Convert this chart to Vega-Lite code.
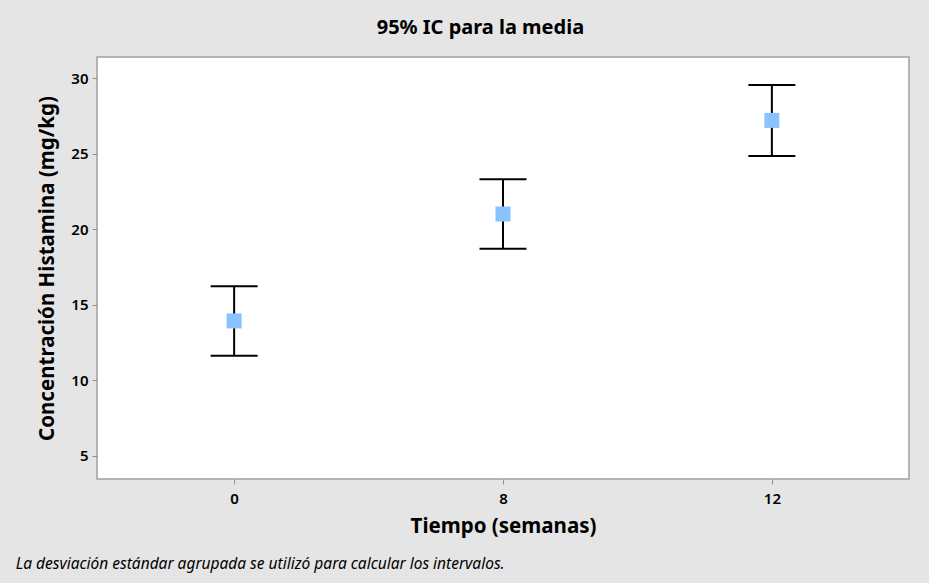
{
  "$schema": "https://vega.github.io/schema/vega-lite/v6.json",
  "background": "#e5e5e5",
  "padding": {"left": 15, "top": 18, "right": 20, "bottom": 10},
  "title": {
    "text": "95% IC para la media",
    "font": "Noto Sans",
    "fontSize": 20,
    "fontWeight": "bold",
    "color": "#000000",
    "anchor": "middle",
    "offset": 18,
    "dx": 18
  },
  "vconcat": [
    {
      "width": 812,
      "height": 422,
      "title": {
        "text": "La desviación estándar agrupada se utilizó para calcular los intervalos.",
        "orient": "bottom",
        "anchor": "start",
        "frame": "bounds",
        "font": "Noto Sans",
        "fontSize": 15.5,
        "fontStyle": "italic",
        "fontWeight": "normal",
        "color": "#000000",
        "dx": -22,
        "offset": 20
      },
      "data": {
        "values": [
          {"tiempo": "0", "media": 13.92, "inferior": 11.62, "superior": 16.22},
          {"tiempo": "8", "media": 21.0, "inferior": 18.7, "superior": 23.3},
          {"tiempo": "12", "media": 27.2, "inferior": 24.85, "superior": 29.55}
        ]
      },
      "encoding": {
        "x": {
          "field": "tiempo",
          "type": "ordinal",
          "sort": ["0", "8", "12"],
          "scale": {"type": "point", "padding": 0.51},
          "axis": {"title": "Tiempo (semanas)", "labelAngle": 0}
        }
      },
      "layer": [
        {
          "mark": {"type": "rule", "color": "#000000", "strokeWidth": 2},
          "encoding": {
            "y": {
              "field": "inferior",
              "type": "quantitative",
              "scale": {"domain": [3.45, 31.4], "nice": false, "zero": false},
              "axis": {"title": "Concentración Histamina (mg/kg)", "values": [5, 10, 15, 20, 25, 30]}
            },
            "y2": {"field": "superior"}
          }
        },
        {
          "mark": {"type": "tick", "color": "#000000", "size": 47, "thickness": 2, "opacity": 1},
          "encoding": {"y": {"field": "inferior", "type": "quantitative"}}
        },
        {
          "mark": {"type": "tick", "color": "#000000", "size": 47, "thickness": 2, "opacity": 1},
          "encoding": {"y": {"field": "superior", "type": "quantitative"}}
        },
        {
          "mark": {"type": "square", "color": "#8ac2ff", "size": 225, "opacity": 1, "filled": true},
          "encoding": {"y": {"field": "media", "type": "quantitative"}}
        }
      ]
    }
  ],
  "config": {
    "view": {"fill": "#ffffff", "stroke": "#a0a0a0", "strokeWidth": 1.5},
    "concat": {"spacing": 0},
    "axis": {
      "domain": false,
      "grid": false,
      "labelFont": "Noto Sans",
      "labelFontSize": 15,
      "labelFontWeight": 600,
      "labelColor": "#000000",
      "tickColor": "#909090",
      "tickSize": 5,
      "titleFont": "Noto Sans",
      "titleFontSize": 20.5,
      "titleFontWeight": "bold",
      "titleColor": "#000000"
    },
    "axisY": {"labelPadding": 4, "titlePadding": 13},
    "axisX": {"labelPadding": 7, "titlePadding": 10}
  }
}
